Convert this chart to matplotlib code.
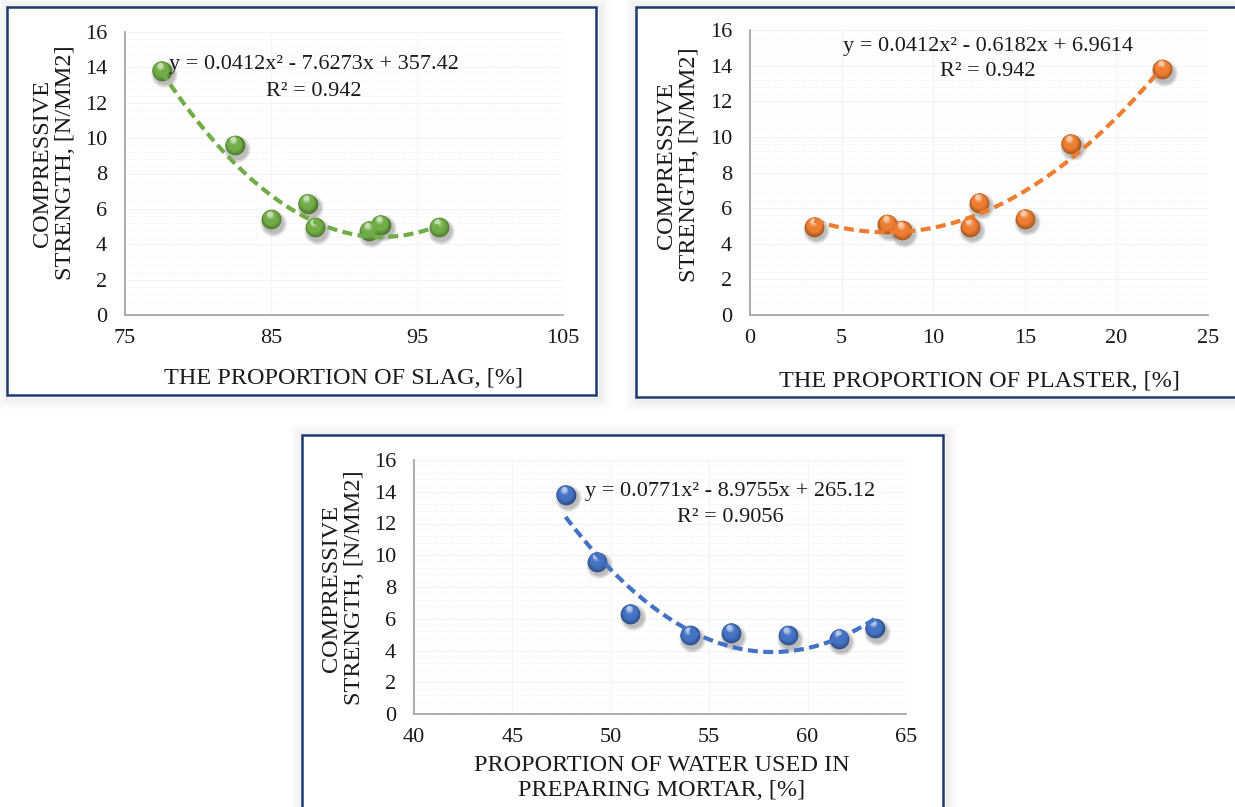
import numpy as np
import matplotlib
matplotlib.use("Agg")
import matplotlib.pyplot as plt
from matplotlib.patches import Rectangle
from matplotlib.transforms import ScaledTranslation
from matplotlib.ticker import MultipleLocator
from matplotlib.colors import to_rgb

# data
slag = [77.5, 82.5, 85.0, 87.5, 88.0, 91.7, 92.5, 96.5]
slag_strength = [13.8, 9.6, 5.4, 6.3, 4.95, 4.75, 5.1, 4.95]

plaster = [22.5, 17.5, 15.0, 12.5, 12.0, 8.3, 7.5, 3.5]
plaster_strength = [13.8, 9.6, 5.4, 6.3, 4.95, 4.75, 5.1, 4.95]

water = [47.7, 49.3, 51.0, 54.0, 56.1, 59.0, 61.6, 63.4]
water_strength = [13.8, 9.6, 6.3, 4.95, 5.1, 4.95, 4.75, 5.4]

# trendline coefficients as printed on the chart
slag_fit = [0.0412, -7.6273, 357.42]
plaster_fit = [0.0412, -0.6182, 6.9614]
water_fit = [0.0771, -8.9755, 265.12]

slag_ticks = [75, 85, 95, 105]
plaster_ticks = [0, 5, 10, 15, 20, 25]
water_ticks = [40, 45, 50, 55, 60, 65]
y_ticks = [0, 2, 4, 6, 8, 10, 12, 14, 16]

W, H = 1235, 807
plt.rcParams['font.family'] = ['Liberation Serif', 'DejaVu Serif']
fig = plt.figure(figsize=(W / 100, H / 100), dpi=100)
NAVY = '#1F3A70'
TXT = '#1a1a1a'


def fx(x):
    return x / W


def fy(y):
    return 1 - y / H


def panel(x0, y0, x1, y1):
    # soft shadow
    for k in range(1, 13):
        a = 0.04 * (1 - k / 13)
        fig.add_artist(Rectangle((fx(x0 - k + 2), fy(y1 + k + 2)),
                                 (x1 - x0 + 2 * k) / W, (y1 - y0 + 2 * k) / H,
                                 transform=fig.transFigure, facecolor='none',
                                 edgecolor='black', lw=1.4, alpha=a, zorder=-3))
    fig.add_artist(Rectangle((fx(x0), fy(y1)), (x1 - x0) / W, (y1 - y0) / H,
                             transform=fig.transFigure, facecolor='white',
                             edgecolor=NAVY, lw=1.8, zorder=-2))


def make_axes(l, t, r, b, xlim, xticks, xminor):
    ax = fig.add_axes([fx(l), fy(b), (r - l) / W, (b - t) / H])
    ax.set_facecolor('none')
    ax.set_xlim(*xlim)
    ax.set_ylim(0, 16)
    ax.set_xticks(xticks)
    ax.set_yticks(y_ticks)
    ax.xaxis.set_minor_locator(MultipleLocator(xminor))
    ax.yaxis.set_minor_locator(MultipleLocator(0.4))
    for s in ['top', 'right']:
        ax.spines[s].set_visible(False)
    for s in ['left', 'bottom']:
        ax.spines[s].set_color('#a6a6a6')
        ax.spines[s].set_linewidth(1.3)
    ax.tick_params(which='both', length=0, labelsize=16, colors=TXT)
    ax.tick_params(axis='y', pad=13)
    ax.tick_params(axis='x', pad=10)
    ax.grid(which='major', color='#f3f3f3', lw=0.8)
    ax.grid(which='minor', color='#f9f9f9', lw=0.6)
    ax.set_axisbelow(True)
    return ax


def spheres(ax, x, y, color):
    base = np.array(to_rgb(color))
    dark = base * 0.72
    light = base + (1 - base) * 0.6
    d = 14.2  # points
    # drop shadow
    for k in range(4):
        tr = ax.transData + ScaledTranslation(1.5 / 72, -2.5 / 72, fig.dpi_scale_trans)
        ax.scatter(x, y, s=(d + 5 - k * 1.5) ** 2, color='black', alpha=0.07,
                   lw=0, transform=tr, zorder=4)
    n = 12
    for i in range(n):
        f = i / (n - 1)
        if f < 0.35:
            g = f / 0.35
            c = dark * (1 - g) + base * g
        elif f < 0.7:
            c = base
        else:
            g = (f - 0.7) / 0.3
            c = base * (1 - g) + light * g
        size = d * (1 - 0.75 * f)
        dx = -0.08 * d * f / 72
        dy = 0.3 * d * f / 72
        tr = ax.transData + ScaledTranslation(dx, dy, fig.dpi_scale_trans)
        ax.scatter(x, y, s=size ** 2, color=np.clip(c, 0, 1), lw=0,
                   transform=tr, zorder=5 + i)


def trend(ax, x, coef, color):
    xs = np.linspace(min(x), max(x), 200)
    ys = np.polyval(coef, xs)
    ax.plot(xs, ys, color=color, lw=3.0, dashes=(2.4, 1.3), zorder=30,
            dash_capstyle='butt')


# panel frames
panel(7, 7, 596, 395)
panel(636, 7, 1250, 397)
panel(302, 435, 943, 820)

GREEN, ORANGE, BLUE = '#70AD47', '#ED7D31', '#4472C4'

# slag
ax1 = make_axes(125, 32, 563, 315, (75, 105), slag_ticks, 2)
trend(ax1, slag, slag_fit, GREEN)
spheres(ax1, slag, slag_strength, GREEN)

# plaster
ax2 = make_axes(750, 30, 1208, 315, (0, 25), plaster_ticks, 1)
trend(ax2, plaster, plaster_fit, ORANGE)
spheres(ax2, plaster, plaster_strength, ORANGE)

# water
ax3 = make_axes(414, 460, 906, 714, (40, 65), water_ticks, 1)
trend(ax3, water, water_fit, BLUE)
spheres(ax3, water, water_strength, BLUE)

ylab = 'COMPRESSIVE\nSTRENGTH, [N/MM2]'
for xc, yc in [(54, 163), (678, 165), (343, 588)]:
    fig.text(fx(xc), fy(yc), ylab, rotation=90, ha='center', va='center',
             multialignment='center', fontsize=17.5, color=TXT, linespacing=1.15)

fig.text(fx(344), fy(379), 'THE PROPORTION OF SLAG, [%]', ha='center', va='center',
         fontsize=17.5, color=TXT)
fig.text(fx(979), fy(381), 'THE PROPORTION OF PLASTER, [%]', ha='center', va='center',
         fontsize=17.5, color=TXT)
fig.text(fx(662), fy(778), 'PROPORTION OF WATER USED IN\nPREPARING MORTAR, [%]',
         ha='center', va='center', multialignment='center', fontsize=17.5, color=TXT,
         linespacing=1.25)

eqs = [
    (314, 65, 92, 'y = 0.0412x² - 7.6273x + 357.42', 'R² = 0.942'),
    (988, 47, 72, 'y = 0.0412x² - 0.6182x + 6.9614', 'R² = 0.942'),
    (730, 492, 517, 'y = 0.0771x² - 8.9755x + 265.12', 'R² = 0.9056'),
]
for xc, y1, y2, e, r in eqs:
    fig.text(fx(xc), fy(y1), e, ha='center', va='center', fontsize=16, color=TXT, zorder=40)
    fig.text(fx(xc), fy(y2), r, ha='center', va='center', fontsize=16, color=TXT, zorder=40)

fig.savefig('out.png', dpi=100)
